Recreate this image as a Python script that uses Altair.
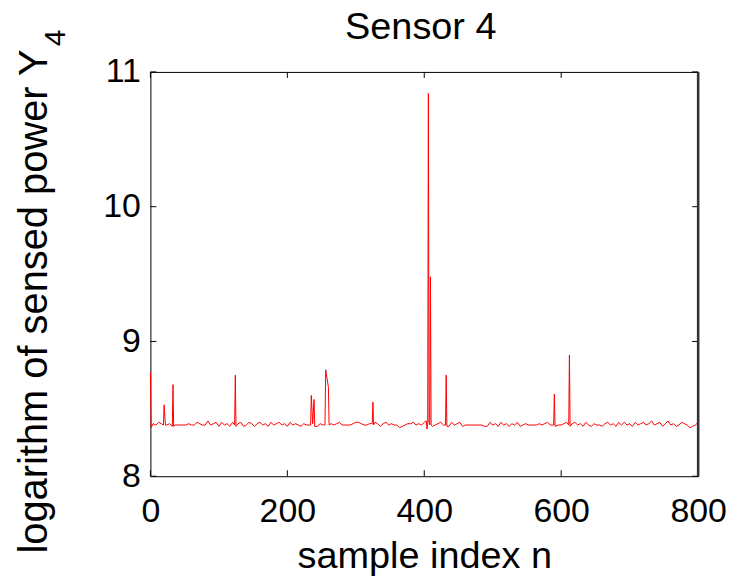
import altair as alt
import pandas as pd

# baseline samples every 4 indices (0..800)
base_step = 4
base_y = [
    8.37, 8.39, 8.38, 8.40, 8.39, 8.41, 8.38, 8.39, 8.37, 8.38, 8.38, 8.38, 8.38, 8.38, 8.39, 8.38, 8.38, 8.40, 8.39, 8.38,
    8.38, 8.41, 8.38, 8.39, 8.40, 8.37, 8.40, 8.38, 8.39, 8.37, 8.40, 8.38, 8.39, 8.40, 8.37, 8.38, 8.40, 8.39, 8.37, 8.39,
    8.40, 8.38, 8.39, 8.37, 8.40, 8.38, 8.39, 8.40, 8.38, 8.39, 8.37, 8.40, 8.38, 8.39, 8.38, 8.37, 8.39, 8.38, 8.38, 8.39,
    8.38, 8.37, 8.39, 8.38, 8.38, 8.40, 8.39, 8.38, 8.39, 8.40, 8.38, 8.38, 8.38, 8.38, 8.39, 8.40, 8.40, 8.39, 8.38, 8.38,
    8.39, 8.38, 8.40, 8.39, 8.37, 8.39, 8.40, 8.38, 8.39, 8.38, 8.38, 8.36, 8.37, 8.38, 8.39, 8.39, 8.40, 8.38, 8.39, 8.38,
    8.40, 8.39, 8.38, 8.37, 8.38, 8.39, 8.40, 8.38, 8.39, 8.37, 8.40, 8.38, 8.39, 8.40, 8.37, 8.38, 8.38, 8.38, 8.38, 8.38,
    8.38, 8.38, 8.37, 8.37, 8.40, 8.38, 8.39, 8.37, 8.40, 8.38, 8.39, 8.37, 8.39, 8.38, 8.40, 8.37, 8.38, 8.39, 8.38, 8.38,
    8.38, 8.38, 8.39, 8.38, 8.39, 8.40, 8.38, 8.39, 8.40, 8.38, 8.38, 8.39, 8.40, 8.37, 8.39, 8.40, 8.38, 8.39, 8.37, 8.40,
    8.38, 8.37, 8.39, 8.38, 8.38, 8.37, 8.39, 8.40, 8.38, 8.39, 8.37, 8.40, 8.38, 8.40, 8.38, 8.39, 8.37, 8.40, 8.38, 8.39,
    8.40, 8.38, 8.39, 8.41, 8.38, 8.39, 8.40, 8.37, 8.39, 8.41, 8.38, 8.39, 8.37, 8.38, 8.40, 8.39, 8.38, 8.36, 8.37, 8.38,
    8.40,
]

# spikes (with their immediate neighbours)
spike_x = [0, 1,
           19, 20, 22,
           32, 33, 34,
           123, 124, 125,
           234, 235, 237, 239, 240,
           255, 256, 260, 261,
           324, 325, 326,
           403, 404, 405, 406, 407, 408, 409, 410,
           431, 432, 433,
           589, 590, 591,
           611, 612, 613]
spike_y = [8.77, 8.36,
           8.38, 8.53, 8.38,
           8.37, 8.68, 8.37,
           8.38, 8.75, 8.37,
           8.38, 8.60, 8.39, 8.57, 8.37,
           8.38, 8.79, 8.66, 8.38,
           8.39, 8.55, 8.38,
           8.41, 8.35, 8.40, 10.84, 8.40, 8.38, 9.48, 8.38,
           8.38, 8.75, 8.37,
           8.38, 8.61, 8.37,
           8.38, 8.90, 8.37]

x_ticks = [0, 200, 400, 600, 800]
y_ticks = [8, 9, 10, 11]

rows = []
for i, v in enumerate(base_y):
    bx = i * base_step
    if all(abs(bx - sx) >= 2 for sx in spike_x):
        rows.append((bx, v))
rows += list(zip(spike_x, spike_y))
rows.sort()
df = pd.DataFrame(rows, columns=["n", "y"])

W, H = 550, 406
FONT = "Liberation Sans"

xs = alt.Scale(domain=[0, 800], nice=False)
ys = alt.Scale(domain=[8, 11], nice=False)

x_axis = alt.Axis(
    values=x_ticks, title="sample index n", grid=False, domain=False,
    ticks=False, tickSize=0, labelFontSize=34, labelFont=FONT, labelColor="black",
    labelBaseline="alphabetic", labelPadding=45, labelFlush=False,
    titleFontSize=38, titleFont=FONT, titleFontWeight="normal", titleColor="black",
    titleBaseline="alphabetic", titleY=92)
y_axis = alt.Axis(
    values=y_ticks, title="logarithm of sensed power Y", grid=False, domain=False,
    ticks=False, tickSize=0, labelFontSize=34, labelFont=FONT, labelColor="black",
    labelPadding=10, labelFlush=False,
    titleFontSize=40, titleFont=FONT, titleFontWeight="normal", titleColor="black",
    titleAngle=270, titleAlign="right", titleBaseline="alphabetic",
    titleX=-104, titleY=-23)

line = alt.Chart(df).mark_line(color="#ff0000", strokeWidth=1).encode(
    x=alt.X("n:Q", scale=xs, axis=x_axis),
    y=alt.Y("y:Q", scale=ys, axis=y_axis),
)

dxt = pd.DataFrame({"n": x_ticks})
dyt = pd.DataFrame({"y": y_ticks})

bt = alt.Chart(dxt).mark_rule(color="black", strokeWidth=1).encode(
    x=alt.X("n:Q", scale=xs, axis=x_axis), y=alt.value(H), y2=alt.value(H - 6))
tt = alt.Chart(dxt).mark_rule(color="black", strokeWidth=1).encode(
    x=alt.X("n:Q", scale=xs, axis=x_axis), y=alt.value(0), y2=alt.value(6))
lt = alt.Chart(dyt).mark_rule(color="black", strokeWidth=1).encode(
    y=alt.Y("y:Q", scale=ys, axis=y_axis), x=alt.value(0), x2=alt.value(6))
rt = alt.Chart(dyt).mark_rule(color="black", strokeWidth=1).encode(
    y=alt.Y("y:Q", scale=ys, axis=y_axis), x=alt.value(W), x2=alt.value(W - 6))

right_edge = alt.Chart(pd.DataFrame({"e": [1]})).mark_rule(color="#333333", strokeWidth=2.5).encode(
    x=alt.value(W), y=alt.value(0), y2=alt.value(H))

sub = alt.Chart(pd.DataFrame({"s": ["4"]})).mark_text(
    font=FONT, fontSize=30, angle=270, align="center", baseline="alphabetic", color="black"
).encode(text="s:N", x=alt.value(-86), y=alt.value(-34))

title = alt.Chart(pd.DataFrame({"s": ["Sensor 4"]})).mark_text(
    font=FONT, fontSize=38, align="center", baseline="alphabetic", color="black"
).encode(text="s:N", x=alt.value(271.5), y=alt.value(-33))

chart = alt.layer(line, bt, tt, lt, rt, right_edge, sub, title).properties(
    width=W, height=H,
    background="white",
    autosize=alt.AutoSizeParams(type="none"),
    padding={"left": 143, "top": 63, "right": 30, "bottom": 100},
).configure_view(stroke="black", strokeWidth=1)

chart.save("out.html", embed_options={"renderer": "svg", "actions": False})
